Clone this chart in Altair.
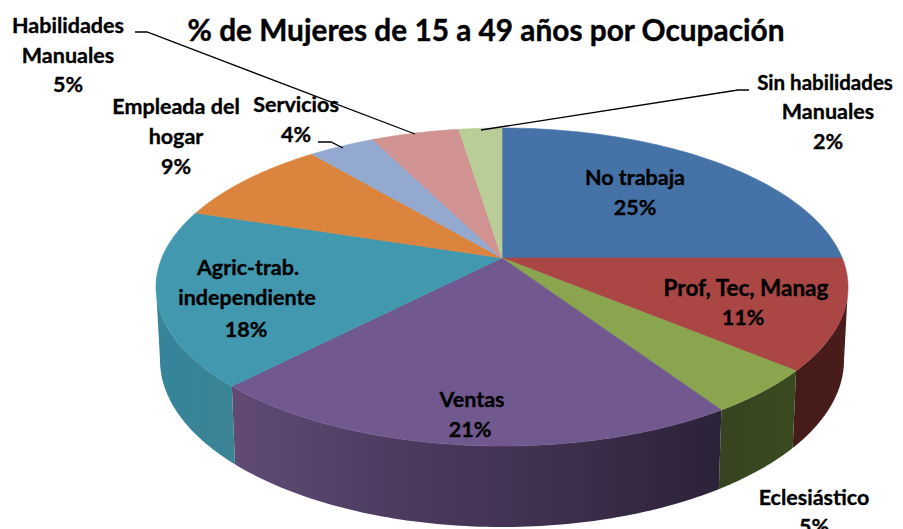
import math
import altair as alt
import pandas as pd

# ---- values
categories = ["No trabaja", "Prof, Tec, Manag", "Eclesiástico", "Ventas",
              "Agric-trab. independiente", "Empleada del hogar", "Servicios",
              "Habilidades Manuales", "Sin habilidades Manuales"]
shares = [25, 11.2, 4.6, 21.3, 17.9, 9, 3.7, 4.9, 2.4]
top_colors = ["#4572A7", "#AA4643", "#89A54E", "#71588F", "#4198AF",
              "#DB843D", "#93A9CF", "#D19392", "#B9CD96"]
wall_stops = {
    1: ["#451b1a", "#4a1d1b"],
    2: ["#364420", "#3a4a20"],
    3: ["#614b75", "#4d3b60", "#3f2f4e", "#2b2238"],
    4: ["#35859a", "#3b8496"],
}

TITLE = "% de Mujeres de 15 a 49 años por Ocupación"
label_text = ["Habilidades", "Manuales", "5%", "Empleada del", "hogar", "9%",
              "Servicios", "4%", "Sin habilidades", "Manuales", "2%",
              "No trabaja", "25%", "Prof, Tec, Manag", "11%",
              "Agric-trab.", "independiente", "18%", "Ventas", "21%",
              "Eclesiástico", "5%"]
label_x = [68, 68, 68, 176, 176, 176, 296, 296, 825, 828, 828,
           635, 635, 746, 743, 248, 247, 246, 472, 470, 814, 814]
label_y = [27, 57, 86, 108, 138, 168, 106, 136, 84, 113, 143,
           179, 209, 289, 319, 269, 299, 331, 401, 431, 499, 528]
leader_group = [0, 0, 0, 1, 1, 1, 2, 2, 2]
leader_x = [135, 147, 415, 318, 331, 343, 481, 738, 749]
leader_y = [32, 32, 134, 142, 142, 148, 130, 90, 90]

# ---- view geometry of the tilted disc (page pixels)
OFF = 8
CX, CY, RX, RY = 502, 287, 346, 159
CY2, RX2, RY2 = 360, 342, 167
TILT = 29 / 159


def tilted(theta):
    """Angle on the drawn ellipse for a true angle on the disc."""
    x, y = math.sin(theta), math.cos(theta)
    d = 1 + TILT * y
    xp = x * math.sqrt(1 - TILT ** 2) / d
    yp = (y + TILT) / d
    a = math.atan2(xp, yp)
    return a if a >= 0 else a + 2 * math.pi


def top(t):
    return [CX + RX * math.sin(t) - OFF, CY - RY * math.cos(t) - OFF]


def low(t):
    return [CX + RX2 * math.sin(t) - OFF, CY2 - RY2 * math.cos(t) - OFF]


cum = [0]
for s in shares:
    cum.append(cum[-1] + s)
bounds = [tilted(c / 100 * 2 * math.pi) for c in cum[:-1]] + [2 * math.pi]


def steps(a, b, n=80):
    return [a + (b - a) * i / n for i in range(n + 1)]


apex = [CX - OFF, CY - TILT * RY - OFF]
faces = []
for i in range(len(shares)):
    ring = [apex] + [top(t) for t in steps(bounds[i], bounds[i + 1])] + [apex]
    faces.append({"type": "Feature", "properties": {"c": top_colors[i], "n": categories[i]},
                  "geometry": {"type": "Polygon", "coordinates": [ring]}})

proj = alt.Projection(type="identity", scale=1, translate=[0, 0])
layers = []

# outer walls, only for the front half of the disc
for i, stops in wall_stops.items():
    a = max(bounds[i], math.pi / 2)
    b = min(bounds[i + 1], 3 * math.pi / 2)
    ts = steps(a, b)
    ring = [top(t) for t in ts] + [low(t) for t in reversed(ts)]
    ring.append(ring[0])
    feat = {"type": "Feature", "properties": {"n": categories[i]},
            "geometry": {"type": "Polygon", "coordinates": [ring]}}
    grad = alt.LinearGradient(
        gradient="linear", x1=0, x2=1, y1=0, y2=0,
        stops=[alt.GradientStop(offset=k / (len(stops) - 1), color=c)
               for k, c in enumerate(stops)])
    layers.append(alt.Chart(alt.Data(values=[feat])).mark_geoshape(
        fill=grad, strokeWidth=0).project(**proj.to_dict()))

layers.append(alt.Chart(alt.Data(values=faces)).mark_geoshape(strokeWidth=0.6).encode(
    fill=alt.Fill("properties.c:N", scale=None, legend=None),
    stroke=alt.Stroke("properties.c:N", scale=None, legend=None),
).project(**proj.to_dict()))

leaders = pd.DataFrame({"g": leader_group,
                        "x": [v - OFF for v in leader_x],
                        "y": [v - OFF for v in leader_y],
                        "o": range(len(leader_x))})
layers.append(alt.Chart(leaders).mark_line(color="#000000", strokeWidth=1.3).encode(
    x=alt.X("x:Q", scale=None, axis=None),
    y=alt.Y("y:Q", scale=None, axis=None),
    detail="g:N", order="o:Q"))

labels = pd.DataFrame({"t": label_text,
                       "x": [v - OFF for v in label_x],
                       "y": [v - OFF for v in label_y]})
layers.append(alt.Chart(labels).transform_calculate(
    fs="datum.t === 'Sin habilidades' ? 20.5 : datum.t === 'Prof, Tec, Manag' ? 22.5 : 21.5"
).mark_text(font="Lato", fontWeight="bold",
            color="#000000", stroke="#000000", strokeWidth=0.35,
            baseline="middle").encode(
    x=alt.X("x:Q", scale=None, axis=None),
    y=alt.Y("y:Q", scale=None, axis=None),
    size=alt.Size("fs:Q", scale=None, legend=None),
    text="t:N"))

title_df = pd.DataFrame({"t": [TITLE], "x": [486 - OFF], "y": [32 - OFF]})
layers.append(alt.Chart(title_df).mark_text(font="Lato", fontWeight="bold", fontSize=29.8,
                                            color="#000000", stroke="#000000", strokeWidth=0.4,
                                            baseline="middle").encode(
    x=alt.X("x:Q", scale=None, axis=None),
    y=alt.Y("y:Q", scale=None, axis=None),
    text="t:N"))

chart = alt.layer(*layers).properties(
    width=887, height=521, padding=0, autosize="none", background="#ffffff"
).configure_view(stroke=None)

chart.save("out.html", embed_options={"renderer": "svg", "actions": False})
